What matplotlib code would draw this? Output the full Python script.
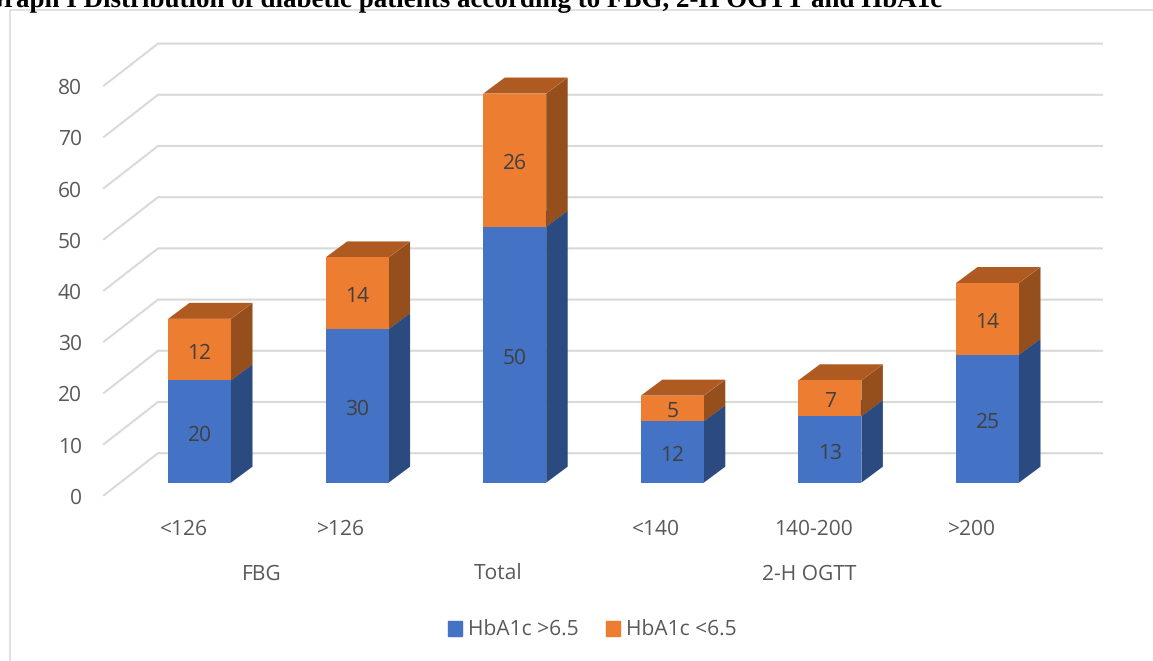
import matplotlib
matplotlib.use("Agg")
from matplotlib import pyplot as plt
from matplotlib.patches import Patch

plt.rcParams['font.family'] = ['Open Sans', 'DejaVu Sans']
plt.rcParams['text.hinting'] = 'no_hinting'
plt.rcParams['text.hinting_factor'] = 1

W, H = 1153, 661

# les donnees du graphique
categories = ["<126", ">126", "", "<140", "140-200", ">200"]
groups = ["FBG", "Total", "2-H OGTT"]
group_pos = [0.397, 1.893, 3.867]
hba1c_high = [20, 30, 50, 12, 13, 25]
hba1c_low = [12, 14, 26, 5, 7, 14]
y_ticks = [0, 10, 20, 30, 40, 50, 60, 70, 80]

BLUE, BLUE_DARK = "#4472C4", "#2A4A80"
ORANGE, ORANGE_SIDE, ORANGE_TOP = "#ED7D31", "#954F1C", "#AE5A21"
GRID = "#D9D9D9"
TEXT = "#595959"
LABEL = "#404040"
FS = 15.4

# echelle : pixels par unite
PX_X = 157.6
PX_Y = 5.12
X0, Y0 = 199.5, 482.7
BAR_W = 63 / PX_X


def dx(px):
    return px / PX_X


def dy(px):
    return px / PX_Y


fig = plt.figure(figsize=(W / 100, H / 100), dpi=100)
ax = fig.add_axes([0, 0, 1, 1])
ax.set_xlim(-X0 / PX_X, (W - X0) / PX_X)
ax.set_ylim(-(H - Y0) / PX_Y, Y0 / PX_Y)
ax.axis("off")

# cadre du graphique (gauche et haut)
ax.plot([dx(9.5 - X0), dx(9.5 - X0), dx(W - X0)],
        [-(H - Y0) / PX_Y, dy(Y0 - 9.5), dy(Y0 - 9.5)],
        color=GRID, lw=1.1, zorder=1)

# titre coupe en haut de l'image
ax.text(dx(-17 - X0), dy(Y0 - 6), "Graph I Distribution of diabetic patients according to FBG, 2-H OGTT and HbA1c",
        family="Liberation Serif", weight="bold", fontsize=19.1, color="black", va="baseline", ha="left")

# grille : mur du fond et plancher
for v in y_ticks:
    y_front = v + dy(-12.5)
    y_back = v + dy(29.5)
    ax.plot([dx(104 - X0), dx(158 - X0), dx(1102 - X0)], [y_front, y_back, y_back],
            color=GRID, lw=1.5, zorder=1, solid_joinstyle="miter")
    ax.text(dx(82 - X0), y_front + dy(-3), str(v), ha="right", va="center", fontsize=FS, color=TEXT)


def box(x, bottom, height, front, side, top_color):
    left, right = x - BAR_W / 2, x + BAR_W / 2
    top = bottom + height
    ax.bar(x, height, BAR_W, bottom=bottom, color=front, zorder=3, linewidth=0)
    ax.fill([right, right + dx(21.5), right + dx(21.5), right],
            [bottom, bottom + dy(16), top + dy(16), top], color=side, zorder=2.5, lw=0)
    ax.fill([left, left + dx(21.5), right + dx(21.5), right],
            [top, top + dy(16), top + dy(16), top], color=top_color, zorder=2.5, lw=0)


for i, (a, b) in enumerate(zip(hba1c_high, hba1c_low)):
    box(i, 0, a, BLUE, BLUE_DARK, BLUE_DARK)
    box(i, a, b, ORANGE, ORANGE_SIDE, ORANGE_TOP)
    ax.text(i, a / 2 + dy(-3.5), str(a), ha="center", va="center", fontsize=FS, color=LABEL, zorder=4)
    ax.text(i, a + b / 2 + dy(-3.5), str(b), ha="center", va="center", fontsize=FS, color=LABEL, zorder=4)
    # etiquettes decalees vers la gauche comme dans Excel
    ax.text(i + dx(-16), dy(482.7 - 529.5), categories[i], ha="center", va="center", fontsize=FS, color=TEXT)

for g, p in zip(groups, group_pos):
    ax.text(p, dy(482.7 - 574.5), g, ha="center", va="center", fontsize=FS, color=TEXT)

handles = [Patch(color=BLUE, label="HbA1c >6.5"), Patch(color=ORANGE, label="HbA1c <6.5")]
ax.legend(handles=handles, loc="center", bbox_to_anchor=(592 / W, 1 - 630.5 / H), ncol=2, frameon=False,
          fontsize=FS, labelcolor=TEXT, handlelength=0.66, handleheight=0.66, handletextpad=0.28,
          columnspacing=1.27)

fig.savefig("out.png", dpi=100)
